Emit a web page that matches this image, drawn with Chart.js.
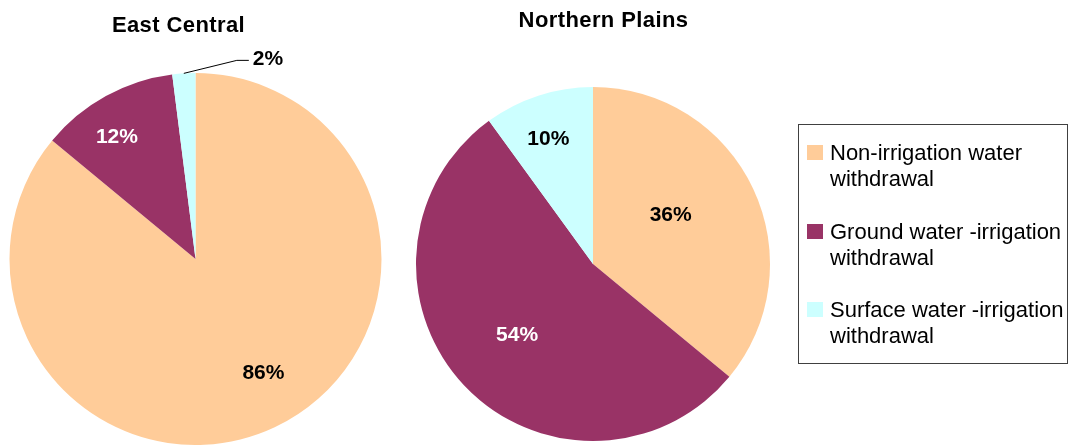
<!DOCTYPE html>
<html><head><meta charset="utf-8">
<script src="https://cdn.jsdelivr.net/npm/chart.js@4.4.0/dist/chart.umd.min.js"></script>
<style>
html,body{margin:0;padding:0;background:#fff;}
#wrap{position:relative;width:1070px;height:445px;overflow:hidden;font-family:"Liberation Sans",Arial,sans-serif;}
.cv{position:absolute;top:0;height:445px;width:400px;}
#legend{position:absolute;left:798px;top:124px;width:268px;height:238px;border:1px solid #404040;box-sizing:content-box;}
.item{position:absolute;left:8px;}
.sw{position:absolute;left:0;top:0;width:16px;height:15px;}
.tx{position:absolute;left:23px;top:-5px;white-space:nowrap;font-size:22px;line-height:26px;color:#000;}
</style></head>
<body><div id="wrap">
<div class="cv" style="left:0"><canvas id="c1"></canvas></div>
<div class="cv" style="left:400px"><canvas id="c2"></canvas></div>
<div id="legend"></div>
</div>
<script>
// ---- data ----
const categories = ["Non-irrigation water withdrawal", "Ground water -irrigation withdrawal", "Surface water -irrigation withdrawal"];
const legendLines = [["Non-irrigation water", "withdrawal"], ["Ground water -irrigation", "withdrawal"], ["Surface water -irrigation", "withdrawal"]];
const titles = ["East Central", "Northern Plains"];
const eastCentral = [86, 12, 2];
const northernPlains = [36, 54, 10];
const colors = ["#FFCC99", "#993366", "#CCFFFF"];

const FONT = '"Liberation Sans", Arial, sans-serif';

const titlePlugin = {
  id: 'fixedTitle',
  afterDraw(chart, args, o) {
    const ctx = chart.ctx;
    ctx.save();
    ctx.font = 'bold 22px ' + FONT;
    if ('letterSpacing' in ctx) ctx.letterSpacing = '0.4px';
    ctx.fillStyle = '#000';
    ctx.textAlign = 'center';
    ctx.textBaseline = 'alphabetic';
    ctx.fillText(o.text, o.x, o.y);
    ctx.restore();
  }
};

const pctPlugin = {
  id: 'pctLabels',
  afterDatasetsDraw(chart, args, o) {
    const ctx = chart.ctx;
    const meta = chart.getDatasetMeta(0);
    const data = chart.data.datasets[0].data;
    const total = data.reduce((a, b) => a + b, 0);
    ctx.save();
    ctx.font = 'bold 21px ' + FONT;
    meta.data.forEach((arc, i) => {
      const p = o.place[i];
      const txt = Math.round(data[i] / total * 100) + '%';
      const mid = (arc.startAngle + arc.endAngle) / 2 + (p.da || 0) * Math.PI / 180;
      if (p.callout) {
        const x0 = arc.x + Math.cos(mid) * arc.outerRadius;
        const y0 = arc.y + Math.sin(mid) * arc.outerRadius;
        const c = p.callout;
        ctx.strokeStyle = '#000';
        ctx.lineWidth = 1;
        ctx.beginPath();
        ctx.moveTo(x0, y0);
        ctx.lineTo(x0 + c.ex, y0 + c.ey);
        ctx.lineTo(x0 + c.hx, y0 + c.ey);
        ctx.stroke();
        ctx.fillStyle = p.color;
        ctx.textAlign = 'left';
        ctx.textBaseline = 'middle';
        ctx.fillText(txt, x0 + c.hx + 4, y0 + c.ey - 1.5);
      } else {
        const r = arc.outerRadius * p.r;
        ctx.fillStyle = p.color;
        ctx.textAlign = 'center';
        ctx.textBaseline = 'middle';
        ctx.fillText(txt, arc.x + Math.cos(mid) * r, arc.y + Math.sin(mid) * r);
      }
    });
    ctx.restore();
  }
};

function makePie(id, values, title, padding, titlePos, place) {
  return new Chart(document.getElementById(id), {
    type: 'pie',
    data: {
      labels: categories,
      datasets: [{ data: values, backgroundColor: colors, borderWidth: 0, hoverOffset: 0 }]
    },
    options: {
      responsive: true,
      maintainAspectRatio: false,
      animation: false,
      layout: { padding: padding },
      plugins: {
        legend: { display: false },
        tooltip: { enabled: false },
        fixedTitle: { text: title, x: titlePos.x, y: titlePos.y },
        pctLabels: { place: place }
      }
    },
    plugins: [titlePlugin, pctPlugin]
  });
}

makePie('c1', eastCentral, titles[0],
  { left: 9.5, right: 18.5, top: 73, bottom: 0 },
  { x: 178.5, y: 32 },
  [
    { r: 0.713, da: -5.6, color: '#000' },
    { r: 0.78, da: -4, color: '#fff' },
    { callout: { ex: 53, ey: -13, hx: 65 }, color: '#000' }
  ]);

makePie('c2', northernPlains, titles[1],
  { left: 16, right: 30, top: 87, bottom: 4 },
  { x: 203.5, y: 27 },
  [
    { r: 0.517, da: -6.7, color: '#000' },
    { r: 0.588, da: 0, color: '#fff' },
    { r: 0.749, da: -1.7, color: '#000' }
  ]);

// ---- legend (HTML, from the category arrays) ----
const lg = document.getElementById('legend');
legendLines.forEach((lines, i) => {
  const item = document.createElement('div');
  item.className = 'item';
  item.style.top = (20 + i * 78.5) + 'px';
  const sw = document.createElement('div');
  sw.className = 'sw';
  sw.style.background = colors[i];
  const tx = document.createElement('div');
  tx.className = 'tx';
  tx.title = categories[i];
  lines.forEach((l, j) => {
    if (j) tx.appendChild(document.createElement('br'));
    tx.appendChild(document.createTextNode(l));
  });
  item.appendChild(sw);
  item.appendChild(tx);
  lg.appendChild(item);
});
</script>
</body></html>
